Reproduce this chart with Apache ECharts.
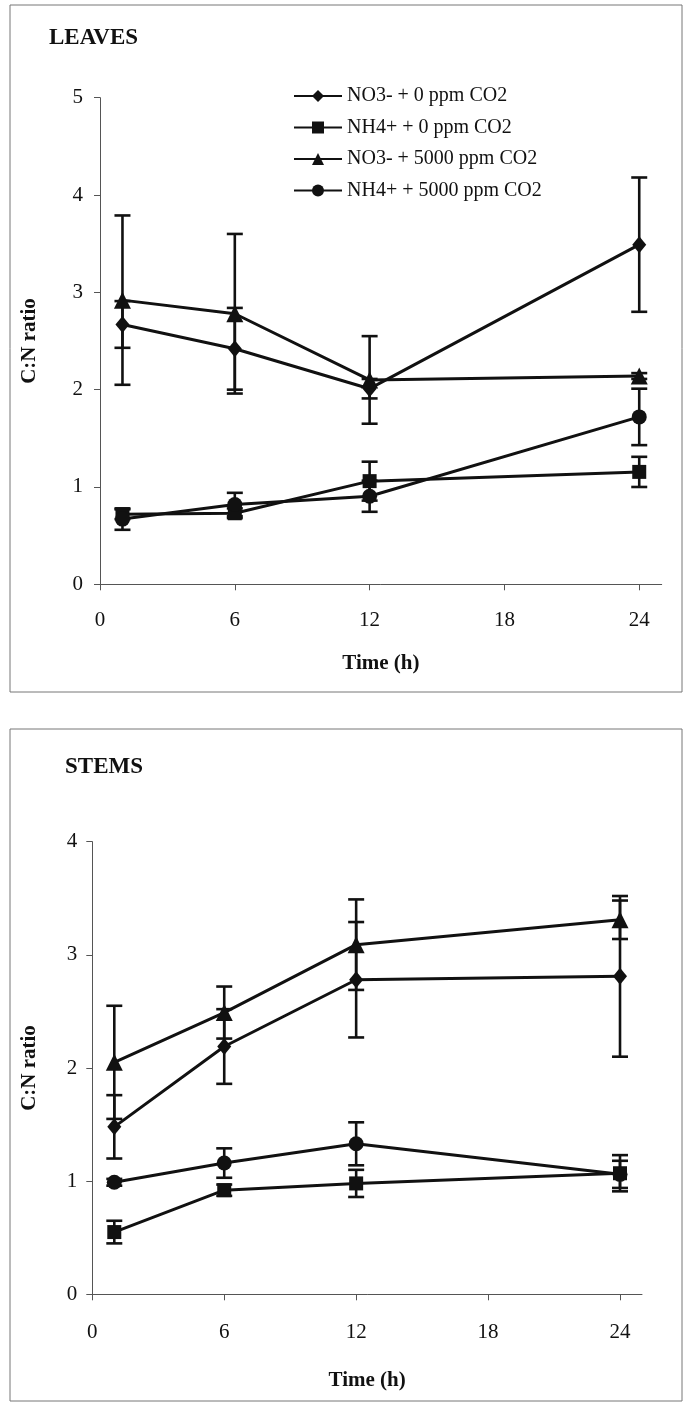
<!DOCTYPE html>
<html>
<head>
<meta charset="utf-8">
<script src="https://cdn.jsdelivr.net/npm/echarts@6/dist/echarts.min.js"></script>
<style>
  html, body {margin: 0; padding: 0; background: #fff;}
  #chart {width: 685px; height: 1404px;}
</style>
</head>
<body>
<div id="chart"></div>
<script>
// sampling times (h) and axis ticks
const hours = [1, 6, 12, 24]
const xTicks = [0, 6, 12, 18, 24]
const seriesNames = ['NO3- + 0 ppm CO2', 'NH4+ + 0 ppm CO2', 'NO3- + 5000 ppm CO2', 'NH4+ + 5000 ppm CO2']
const symbols = ['diamond', 'rect', 'triangle', 'circle']
const symbolSizes = [[14, 17], 14, 17, 15]

// LEAVES: C:N ratio and error (+/-)
const leavesNo3Co2_0 = [2.67, 2.42, 2.01, 3.49]
const leavesNo3Co2_0Err = [0.24, 0.42, 0.10, 0.69]
const leavesNh4Co2_0 = [0.72, 0.73, 1.06, 1.155]
const leavesNh4Co2_0Err = [0.05, 0.05, 0.20, 0.155]
const leavesNo3Co2_5000 = [2.92, 2.78, 2.10, 2.14]
const leavesNo3Co2_5000Err = [0.87, 0.82, 0.45, 0.03]
const leavesNh4Co2_5000 = [0.67, 0.82, 0.905, 1.72]
const leavesNh4Co2_5000Err = [0.11, 0.12, 0.16, 0.29]

// STEMS
const stemsNo3Co2_0 = [1.48, 2.19, 2.78, 2.81]
const stemsNo3Co2_0Err = [0.28, 0.33, 0.51, 0.71]
const stemsNh4Co2_0 = [0.55, 0.92, 0.98, 1.07]
const stemsNh4Co2_0Err = [0.10, 0.05, 0.12, 0.16]
const stemsNo3Co2_5000 = [2.05, 2.49, 3.09, 3.31]
const stemsNo3Co2_5000Err = [0.50, 0.23, 0.40, 0.17]
const stemsNh4Co2_5000 = [0.99, 1.16, 1.33, 1.06]
const stemsNh4Co2_5000Err = [0.03, 0.13, 0.19, 0.12]

const leaves = [
  [leavesNo3Co2_0, leavesNo3Co2_0Err],
  [leavesNh4Co2_0, leavesNh4Co2_0Err],
  [leavesNo3Co2_5000, leavesNo3Co2_5000Err],
  [leavesNh4Co2_5000, leavesNh4Co2_5000Err],
]
const stems = [
  [stemsNo3Co2_0, stemsNo3Co2_0Err],
  [stemsNh4Co2_0, stemsNh4Co2_0Err],
  [stemsNo3Co2_5000, stemsNo3Co2_5000Err],
  [stemsNh4Co2_5000, stemsNh4Co2_5000Err],
]

const serif = "'Liberation Serif', 'Times New Roman', serif"
const ink = '#111'

function errorBars(params, api) {
  const x = api.value(0)
  const lo = api.coord([x, api.value(1)])
  const hi = api.coord([x, api.value(2)])
  const w = 8
  const style = {stroke: ink, lineWidth: 2.6}
  return {
    type: 'group',
    children: [
      {type: 'line', shape: {x1: lo[0], y1: lo[1], x2: hi[0], y2: hi[1]}, style},
      {type: 'line', shape: {x1: lo[0] - w, y1: lo[1], x2: lo[0] + w, y2: lo[1]}, style},
      {type: 'line', shape: {x1: hi[0] - w, y1: hi[1], x2: hi[0] + w, y2: hi[1]}, style},
    ],
  }
}

function xAxis(gridIndex, labelMargin, nameGap) {
  return {
    type: 'value', gridIndex, min: 0, max: 25,
    name: 'Time (h)', nameLocation: 'middle', nameGap,
    nameTextStyle: {fontFamily: serif, fontWeight: 'bold', fontSize: 21, color: ink},
    axisLine: {lineStyle: {color: '#555', width: 1}},
    axisTick: {length: 6, customValues: xTicks, lineStyle: {color: '#555'}},
    axisLabel: {customValues: xTicks, margin: labelMargin, fontFamily: serif, fontSize: 21, color: ink},
    splitLine: {show: false},
  }
}

function yAxis(gridIndex, max, labelMargin, nameGap) {
  return {
    type: 'value', gridIndex, min: 0, max, interval: 1,
    name: 'C:N ratio', nameLocation: 'middle', nameGap,
    nameTextStyle: {fontFamily: serif, fontWeight: 'bold', fontSize: 21, color: ink},
    axisLine: {show: true, lineStyle: {color: '#555', width: 1}},
    axisTick: {show: true, length: 6, lineStyle: {color: '#555'}},
    axisLabel: {margin: labelMargin, fontFamily: serif, fontSize: 21, color: ink},
    splitLine: {show: false},
  }
}

function panelSeries(groups, axisIndex) {
  const out = []
  const bars = []
  groups.forEach(([vals, errs], i) => {
    out.push({
      name: seriesNames[i], type: 'line',
      xAxisIndex: axisIndex, yAxisIndex: axisIndex,
      data: hours.map((h, k) => [h, vals[k]]),
      symbol: symbols[i], symbolSize: symbolSizes[i],
      showAllSymbol: true,
      lineStyle: {color: ink, width: 3},
      itemStyle: {color: ink},
      z: 3,
    })
    hours.forEach((h, k) => bars.push([h, vals[k] - errs[k], vals[k] + errs[k]]))
  })
  out.push({
    type: 'custom', xAxisIndex: axisIndex, yAxisIndex: axisIndex,
    renderItem: errorBars, data: bars, encode: {x: 0, y: [1, 2]}, z: 2,
  })
  return out
}

const chart = echarts.init(document.getElementById('chart'))
chart.setOption({
  animation: false,
  backgroundColor: '#fff',
  title: [
    {text: 'LEAVES', left: 49, top: 27, padding: 0, textStyle: {fontFamily: serif, fontWeight: 'bold', fontSize: 23, color: ink}},
    {text: 'STEMS', left: 65, top: 756, padding: 0, textStyle: {fontFamily: serif, fontWeight: 'bold', fontSize: 23, color: ink}},
  ],
  legend: {
    orient: 'vertical', left: 293, top: 86, padding: 0,
    itemWidth: 48, itemHeight: 15, itemGap: 11.5,
    selectedMode: false,
    data: seriesNames,
    textStyle: {fontFamily: serif, fontSize: 20, color: ink},
  },
  graphic: [
    {type: 'rect', shape: {x: 10, y: 5, width: 672, height: 687}, style: {fill: 'none', stroke: '#777', lineWidth: 1}},
    {type: 'rect', shape: {x: 10, y: 729, width: 672, height: 672}, style: {fill: 'none', stroke: '#777', lineWidth: 1}},
  ],
  grid: [
    {left: 100, top: 97.7, width: 561.7, height: 486.6},
    {left: 92.3, top: 841.7, width: 549.7, height: 452.6},
  ],
  xAxis: [xAxis(0, 26, 69), xAxis(1, 28, 76)],
  yAxis: [yAxis(0, 5, 17, 60), yAxis(1, 4, 15, 52)],
  series: [...panelSeries(leaves, 0), ...panelSeries(stems, 1)],
})
</script>
</body>
</html>
